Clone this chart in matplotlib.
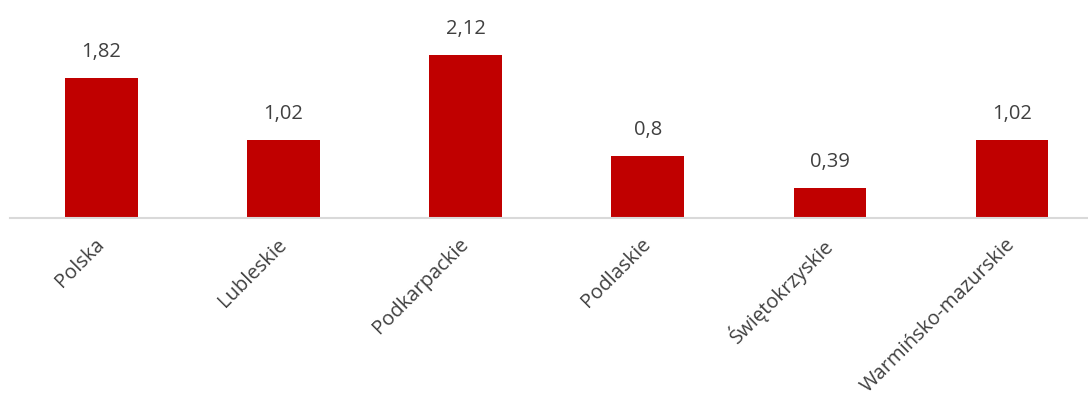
import matplotlib.pyplot as plt
import numpy as np

regions = ["Polska", "Lubleskie", "Podkarpackie", "Podlaskie",
           "Świętokrzyskie", "Warmińsko-mazurskie"]
values = [1.82, 1.02, 2.12, 0.8, 0.39, 1.02]
value_labels = ["1,82", "1,02", "2,12", "0,8", "0,39", "1,02"]

plt.rcParams['font.family'] = ['Open Sans', 'DejaVu Sans']

fig = plt.figure(figsize=(10.88, 3.99), dpi=100)
ax = fig.add_axes([10 / 1088, (399 - 218) / 399, 1078 / 1088, 218 / 399])

x = np.arange(len(regions))
bars = ax.bar(x, values, width=0.4, color="#C00000")

for b, lab in zip(bars, value_labels):
    ax.annotate(lab, (b.get_x() + b.get_width() / 2, b.get_height()),
                xytext=(0, 26), textcoords="offset pixels",
                ha="center", va="center", fontsize=14.5, color="#404040")

ax.set_xlim(-0.502, 5.417)
ax.set_ylim(0, 2.835)

ax.set_xticks(x)
ax.set_xticklabels(regions, rotation=45, ha="right", va="center",
                   rotation_mode="anchor", fontsize=14.5, color="#404040")
ax.tick_params(axis="x", length=0, pad=17)
ax.set_yticks([])

for s in ["top", "right", "left"]:
    ax.spines[s].set_visible(False)
ax.spines["bottom"].set_color("#D9D9D9")
ax.spines["bottom"].set_linewidth(1.5)

fig.savefig("out.png", dpi=100)
